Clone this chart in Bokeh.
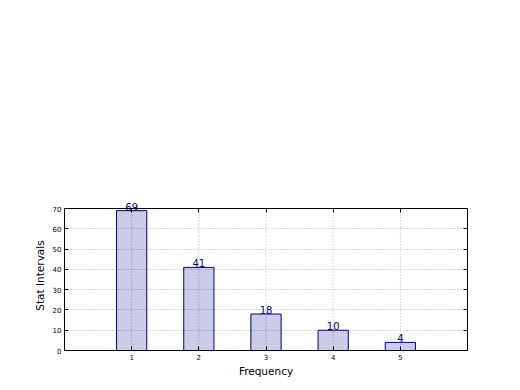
from bokeh.plotting import figure
from bokeh.models import FixedTicker, LinearAxis, Range1d, ColumnDataSource
from bokeh.embed import file_html
from bokeh.resources import INLINE
from bokeh.core.properties import value

categories = [1, 2, 3, 4, 5]
counts = [69, 41, 18, 10, 4]
count_labels = [str(c) for c in counts]
y_ticks = [0, 10, 20, 30, 40, 50, 60, 70]
x_ticks = [1, 2, 3, 4, 5]
x_lim = (0, 6)
y_lim = (0, 70)

FONT = "DejaVu Sans"
GRID = "#b0b0b0"

# frame extended a little above y=70 so the top value label is not clipped;
# the visible box is drawn by axes bounded to 0..70
p = figure(frame_width=403, frame_height=150,
           min_border_left=64, min_border_right=45,
           min_border_top=200, min_border_bottom=32,
           x_range=Range1d(*x_lim), y_range=Range1d(0, 74),
           output_backend="svg", toolbar_location=None,
           x_axis_label="Frequency", y_axis_label="Stat Intervals")
p.background_fill_color = "white"
p.border_fill_color = "white"
p.outline_line_color = None

# vertical dotted grid lines, limited to the box
p.segment(x0=x_ticks, y0=[y_lim[0]] * len(x_ticks), x1=x_ticks,
          y1=[y_lim[1]] * len(x_ticks), line_color=GRID, line_dash="1 2",
          line_width=1, level="underlay")
p.xgrid.visible = False
p.ygrid.ticker = FixedTicker(ticks=y_ticks)
p.ygrid.grid_line_color = GRID
p.ygrid.grid_line_dash = "1 2"
p.ygrid.grid_line_width = 1

src = ColumnDataSource(dict(x=categories, top=counts, lab=count_labels))
p.vbar(x="x", top="top", bottom=0, width=0.45, source=src,
       fill_color="navy", fill_alpha=0.2, line_color="navy", line_width=1)
p.text(x="x", y="top", text="lab", source=src, text_align="center",
       text_baseline="bottom", text_color="navy",
       text_font=value(FONT), text_font_size="10px")

for ax in p.xaxis + p.yaxis:
    ax.major_tick_in = 4
    ax.major_tick_out = 0
    ax.minor_tick_line_color = None
    ax.axis_line_color = "black"
    ax.major_tick_line_color = "black"
    ax.major_label_text_font = FONT
    ax.major_label_text_font_size = "7px"
    ax.major_label_text_color = "black"
    ax.axis_label_text_font = FONT
    ax.axis_label_text_font_size = "10.5px"
    ax.axis_label_text_font_style = "normal"
    ax.axis_label_text_color = "black"
    ax.major_label_standoff = 3
    ax.axis_label_standoff = 4
p.xaxis.axis_label_standoff = 2
p.yaxis.bounds = y_lim

p.xaxis.ticker = FixedTicker(ticks=x_ticks)
p.yaxis.ticker = FixedTicker(ticks=y_ticks)

top_ax = LinearAxis(ticker=FixedTicker(ticks=x_ticks), fixed_location=y_lim[1],
                    bounds=x_lim, major_label_overrides={t: "" for t in x_ticks})
right_ax = LinearAxis(ticker=FixedTicker(ticks=y_ticks), bounds=y_lim,
                      major_label_overrides={t: "" for t in y_ticks})
for ax in (top_ax, right_ax):
    ax.major_tick_in = 4
    ax.major_tick_out = 0
    ax.minor_tick_line_color = None
    ax.major_label_standoff = 0
    ax.axis_line_color = "black"
    ax.major_tick_line_color = "black"
p.add_layout(top_ax, "above")
p.add_layout(right_ax, "right")

open("out.html", "w").write(file_html(p, INLINE))
